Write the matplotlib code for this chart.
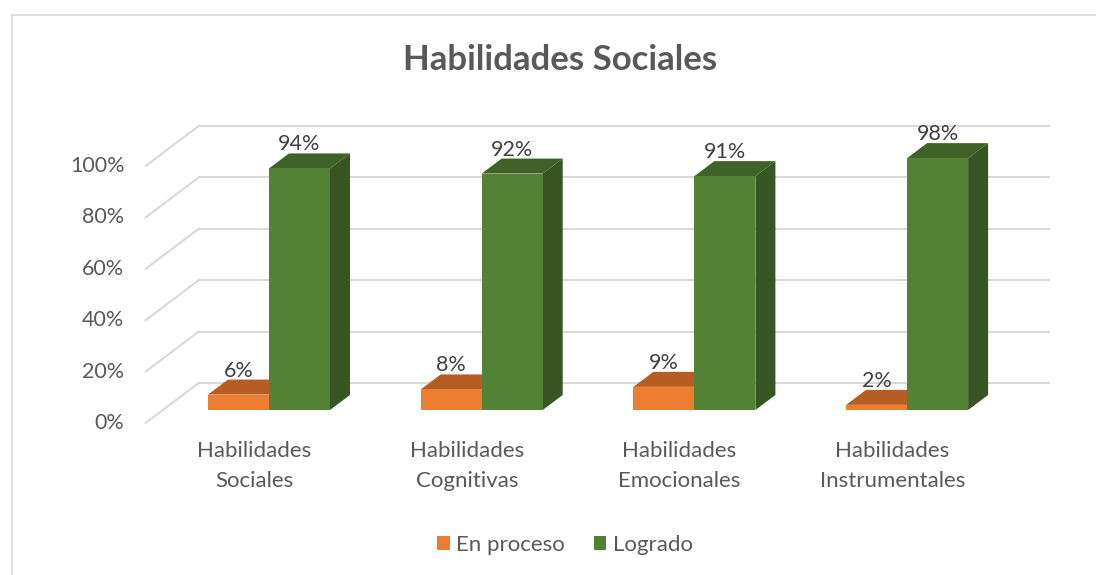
import numpy as np
import matplotlib.pyplot as plt
from matplotlib.patches import Polygon, Patch
from matplotlib.lines import Line2D

# data
categories = ["Habilidades\nSociales", "Habilidades\nCognitivas",
              "Habilidades\nEmocionales", "Habilidades\nInstrumentales"]
series_names = ["En proceso", "Logrado"]
en_proceso = [6, 8, 9, 2]
logrado = [94, 92, 91, 98]
yticks = [0, 20, 40, 60, 80, 100]

plt.rcParams['font.family'] = ['Lato', 'DejaVu Sans']

# colours (front, top, side)
orange = ('#ED7D31', '#B55D22', '#9E5020')
green = ('#548235', '#3F6229', '#375623')
grid_c = '#D9D9D9'
text_c = '#595959'

W, H = 1096, 575
fig = plt.figure(figsize=(W / 100, H / 100), dpi=100)
ax = fig.add_axes([0, 0, 1, 1])

# map data units to the image: one category = 212.7 px, 1% = 2.57 px
px_x0, px_cat = 269, 212.7
px_y0, px_pct = 410, 2.57
ax.set_xlim(-px_x0 / px_cat, (W - px_x0) / px_cat)
ax.set_ylim((px_y0 - H) / px_pct, px_y0 / px_pct)
ax.axis('off')

# oblique depth offsets (x in categories, y in %)
bar_dx, bar_dy = 20 / px_cat, 15 / px_pct
wall_dx, wall_dy = 36 / px_cat, 27 / px_pct
edge_dx, edge_dy = -17 / px_cat, -13 / px_pct
bar_w = 61 / px_cat
floor_left, floor_right = -0.5, len(categories) - 0.5

# back wall gridlines and side wall diagonals
for t in yticks:
    ax.plot([floor_left + wall_dx, floor_right + wall_dx], [t + wall_dy, t + wall_dy],
            color=grid_c, lw=1.5, zorder=1)
    ax.plot([floor_left + edge_dx, floor_left + wall_dx], [t + edge_dy, t + wall_dy],
            color=grid_c, lw=1.5, zorder=1)
    ax.text(floor_left + edge_dx - 0.1, t + edge_dy, f"{t}%", ha='right', va='center',
            fontsize=15.5, color=text_c)


def bar3d(x0, h, cols):
    front = Polygon([(x0, 0), (x0 + bar_w, 0), (x0 + bar_w, h), (x0, h)],
                    facecolor=cols[0], edgecolor='none', zorder=3)
    top = Polygon([(x0, h), (x0 + bar_w, h), (x0 + bar_w + bar_dx, h + bar_dy),
                   (x0 + bar_dx, h + bar_dy)], facecolor=cols[1], edgecolor='none', zorder=3)
    side = Polygon([(x0 + bar_w, 0), (x0 + bar_w + bar_dx, bar_dy),
                    (x0 + bar_w + bar_dx, h + bar_dy), (x0 + bar_w, h)],
                   facecolor=cols[2], edgecolor='none', zorder=3)
    for p in (side, top, front):
        ax.add_patch(p)
    ax.text(x0 + bar_w / 2, h + bar_dy + 3.5, f"{h}%", ha='center', va='center',
            fontsize=15.5, color='#404040', zorder=5)


for i, (a, b) in enumerate(zip(en_proceso, logrado)):
    bar3d(i - bar_w, a, orange)
    bar3d(i, b, green)
    for k, line in enumerate(categories[i].split('\n')):
        ax.text(i - 0.07, -16 - k * 30 / px_pct, line, ha='center', va='center',
                fontsize=16, color=text_c)

# title
fig.text(560 / W, 1 - 60 / H, "Habilidades Sociales", ha='center', va='center',
         fontsize=25, fontweight='bold', color=text_c)

# legend
handles = [Patch(facecolor=orange[0]), Patch(facecolor=green[0])]
fig.legend(handles, series_names, loc='center', bbox_to_anchor=(565 / W, 1 - 545 / H),
           ncol=2, frameon=False, fontsize=16, handlelength=0.55, handleheight=0.55,
           handletextpad=0.3, columnspacing=1.3, labelcolor=text_c)

# chart border
fig.add_artist(Line2D([12 / W, 1], [1 - 15 / H, 1 - 15 / H], color=grid_c, lw=1.2))
fig.add_artist(Line2D([12 / W, 12 / W], [0, 1 - 15 / H], color=grid_c, lw=1.2))

fig.savefig('out.png', dpi=100)
